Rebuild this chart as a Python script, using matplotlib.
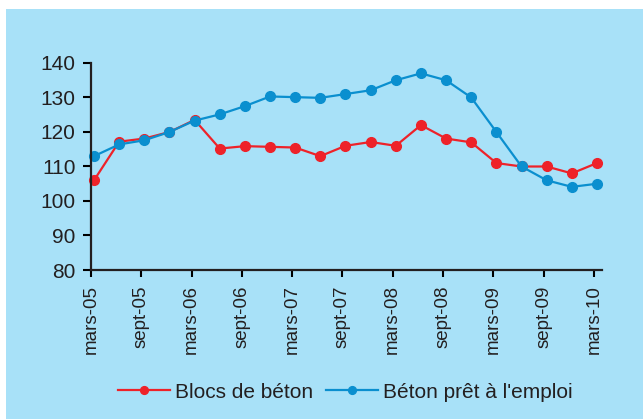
import matplotlib
matplotlib.use("Agg")
import matplotlib.pyplot as plt
from matplotlib.patches import Rectangle
import numpy as np

plt.rcParams['font.family'] = ['Liberation Sans', 'DejaVu Sans']

quarters = ["mars-05", "juin-05", "sept-05", "déc-05", "mars-06", "juin-06", "sept-06", "déc-06",
            "mars-07", "juin-07", "sept-07", "déc-07", "mars-08", "juin-08", "sept-08", "déc-08",
            "mars-09", "juin-09", "sept-09", "déc-09", "mars-10"]
blocs = [106, 117.2, 118.1, 120, 123.5, 115.2, 115.9, 115.7, 115.5, 113, 116, 117.1, 116,
         122, 118.1, 117, 111, 110, 110, 108, 111]
bpe = [113, 116.4, 117.6, 120, 123.3, 125.1, 127.5, 130.3, 130.1, 129.9, 131, 132.1, 135,
       137, 135, 130, 120, 110, 106, 104.1, 105]
tick_labels = quarters[::2]
yticks = [80, 90, 100, 110, 120, 130, 140]

bg = '#A8E1F8'
red = '#EE2229'
blue = '#0A8FCF'
txt = '#231F20'

fig = plt.figure(figsize=(6.43, 4.19), dpi=100)
fig.patch.set_facecolor('white')
fig.patches.append(Rectangle((6/643, 0), 1, 1 - 9/419, transform=fig.transFigure,
                             facecolor=bg, edgecolor='none', zorder=-10))

ax = fig.add_axes([91/643, 149/419, 511/643, 207/419])
ax.set_facecolor('none')
x = np.arange(len(quarters))
ax.plot(x, blocs, color=red, lw=1.6, marker='o', ms=7, label='Blocs de béton', clip_on=False)
ax.plot(x, bpe, color=blue, lw=1.6, marker='o', ms=7, label="Béton prêt à l'emploi", clip_on=False)

ax.set_xlim(-0.12, 20.2)
ax.set_ylim(80, 140)
ax.set_yticks(yticks)
ax.set_xticks(x[::2] - 0.12)
ax.set_xticklabels(tick_labels, rotation=90, fontsize=13.5, color=txt)
ax.tick_params(axis='y', labelsize=15, labelcolor=txt, length=6, width=1.5, pad=5, direction='out')
ax.tick_params(axis='x', length=5, width=1.5, pad=6, direction='out')
for s in ['top', 'right']:
    ax.spines[s].set_visible(False)
for s in ['left', 'bottom']:
    ax.spines[s].set_linewidth(1.6)
    ax.spines[s].set_color('#231F20')

leg = fig.legend(loc='center', bbox_to_anchor=(345.5/643, 27/419), ncol=2, frameon=False,
                 fontsize=15, handlelength=2.5, handletextpad=0.25, columnspacing=0.6,
                 markerscale=0.8)
for t in leg.get_texts():
    t.set_color(txt)

fig.savefig('out.png', dpi=100, facecolor=fig.get_facecolor())
